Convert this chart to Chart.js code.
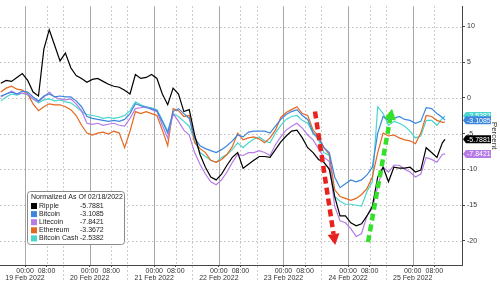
<!DOCTYPE html>
<html lang="en">
<head>
  <meta charset="utf-8" />
  <title>Crypto normalized</title>
  <script src="https://cdn.jsdelivr.net/npm/chart.js"></script>
  <style>
    html, body { margin: 0; padding: 0; background: #fff; }
    canvas { display: block; }
  </style>
</head>
<body>
  <canvas id="cryptoChart" width="500" height="282"></canvas>

  <script>
    // hours since 19 Feb 2022 00:00
    const hours = [
      -9, -7, -5, -3, -1, 1, 3, 5, 7, 9,
      11, 13, 15, 17, 19, 21, 23, 25, 27, 29,
      31, 33, 35, 37, 39, 41, 43, 45, 47, 49,
      51, 53, 55, 57, 59, 61, 63, 65, 67, 69,
      71, 73, 75, 77, 79, 81, 83, 85, 87, 89,
      91, 93, 95, 97, 99, 101, 103, 105, 107, 109,
      111, 113, 115, 117, 119, 121, 123, 125, 127, 129,
      131, 133, 135, 137, 139, 141, 143, 145, 147, 149,
      151, 153, 155, 156
    ];

    const ripple = [
      2.05, 2.46, 2.32, 2.87, 3.42, 2.46, 0.82, 0.27, 6.83, 9.56,
      7.38, 5.19, 6.28, 4.23, 3.14, 2.73, 2.19, 2.60, 2.73, 2.32,
      1.91, 1.64, 1.50, 1.09, 0.55, 3.28, 2.73, 2.87, 3.28, 2.73,
      0.55, -0.96, 1.37, 0.55, -1.91, -1.64, -5.19, -7.92, -9.70, -11.07,
      -11.48, -10.66, -9.43, -8.33, -7.65, -9.84, -9.29, -8.74, -8.20, -8.20,
      -8.33, -7.24, -6.15, -5.33, -4.64, -4.51, -5.60, -6.97, -7.65, -8.61,
      -9.02, -9.97, -13.80, -16.53, -16.53, -17.49, -17.90, -17.62, -16.53, -15.16,
      -11.07, -9.70, -11.75, -9.70, -9.84, -9.84, -9.70, -10.38, -10.11, -6.97,
      -7.65, -8.33, -6.28, -5.7881
    ];
    const bitcoin = [
      0.27, 0.55, 0.82, 0.55, 0.96, 0.82, 0.14, -0.41, 0.27, 0.55,
      0.14, 0.27, 0.14, 0.14, -0.41, -1.23, -2.60, -2.87, -3.01, -3.14,
      -3.28, -3.14, -3.28, -3.01, -2.19, -0.82, -1.09, -1.37, -1.50, -1.78,
      -3.28, -4.92, -1.91, -1.50, -2.19, -2.87, -5.60, -6.69, -7.10, -7.38,
      -7.65, -7.24, -6.69, -6.01, -5.19, -5.46, -4.78, -4.64, -4.64, -4.64,
      -4.92, -3.96, -3.01, -2.32, -1.91, -1.64, -2.46, -3.01, -4.92, -5.60,
      -6.97, -7.65, -11.07, -12.57, -12.02, -11.48, -11.75, -11.48, -10.79, -9.70,
      -4.92, -2.60, -3.14, -2.87, -2.60, -3.01, -3.14, -3.55, -3.28, -1.37,
      -1.50, -2.19, -2.73, -3.1085
    ];
    const litecoin = [
      0.14, 0.55, 0.96, 0.55, 0.68, 0.55, -0.14, -0.55, 0.14, 0.82,
      0.14, -0.14, -0.27, -0.14, -0.82, -1.78, -3.55, -3.69, -3.55, -3.83,
      -3.69, -3.55, -3.83, -3.96, -2.87, -1.50, -1.37, -1.23, -1.64, -1.91,
      -3.83, -5.60, -2.19, -3.28, -4.51, -5.19, -7.65, -9.29, -10.66, -11.75,
      -12.16, -11.48, -10.38, -9.02, -7.92, -8.06, -7.65, -7.65, -7.38, -7.65,
      -8.06, -6.56, -5.46, -4.51, -3.96, -3.55, -4.23, -5.19, -5.87, -7.10,
      -8.33, -8.88, -15.16, -17.21, -17.49, -18.31, -19.40, -18.99, -16.53, -15.44,
      -12.43, -9.70, -10.38, -9.43, -9.43, -9.97, -10.38, -11.07, -10.66, -8.33,
      -8.61, -9.02, -7.92, -7.8421
    ];
    const ethereum = [
      0.82, 1.37, 1.64, 1.23, 1.09, 0.55, -0.82, -1.78, -1.23, -0.82,
      -0.96, -0.96, -1.23, -1.64, -2.46, -3.83, -4.92, -5.19, -4.92, -4.78,
      -5.05, -4.64, -4.92, -6.97, -4.64, -1.91, -2.19, -1.91, -2.19, -2.46,
      -4.51, -6.69, -1.50, -1.78, -2.60, -2.46, -6.28, -7.10, -7.65, -8.74,
      -9.02, -8.61, -7.92, -6.83, -4.92, -5.87, -5.60, -5.46, -5.74, -6.28,
      -5.60, -4.51, -2.73, -2.05, -1.64, -1.23, -2.19, -2.46, -4.51, -5.33,
      -6.97, -7.92, -12.84, -13.80, -14.07, -14.34, -14.07, -13.52, -12.70, -11.07,
      -7.65, -4.92, -5.33, -5.19, -5.60, -5.87, -6.01, -6.42, -4.92, -2.46,
      -2.60, -3.14, -3.42, -3.3672
    ];
    const bitcoinCash = [
      -0.41, 0.14, 0.55, 0.41, 0.68, 0.41, -0.14, -0.68, -0.27, -0.14,
      -0.41, -0.27, -0.55, -0.68, -1.23, -1.91, -2.32, -2.46, -2.60, -2.87,
      -2.73, -2.87, -2.73, -2.46, -1.78, -0.55, -0.96, -1.23, -1.37, -1.64,
      -3.14, -4.64, -2.19, -2.60, -3.28, -3.96, -6.01, -7.65, -8.20, -8.74,
      -9.02, -8.33, -7.92, -7.24, -6.28, -6.97, -6.28, -5.74, -5.46, -6.01,
      -6.28, -4.92, -3.83, -3.01, -2.60, -2.46, -3.14, -3.55, -4.92, -5.87,
      -7.65, -8.06, -13.80, -14.48, -14.89, -14.89, -15.03, -15.16, -13.11, -11.75,
      -1.23, -2.19, -3.83, -3.28, -3.55, -3.96, -4.64, -5.60, -5.33, -3.14,
      -3.14, -3.83, -2.87, -2.5382
    ];

    const seriesNames = ['Ripple', 'Bitcoin', 'Litecoin', 'Ethereum', 'Bitcoin Cash'];
    const seriesColors = ['#000000', '#3d86e0', '#b57be6', '#e5661f', '#48d6cc'];
    const lastValues = ['-5.7881', '-3.1085', '-7.8421', '-3.3672', '-2.5382'];

    const dayLabels = ['19 Feb 2022', '20 Feb 2022', '21 Feb 2022', '22 Feb 2022',
                       '23 Feb 2022', '24 Feb 2022', '25 Feb 2022'];
    const yTicks = [-20, -15, -10, -5, 0, 5, 10];
    const legendTitle = 'Normalized As Of 02/18/2022';

    // arrows drawn on the chart, [hour, percent] start -> tip
    const redArrow = [[107.7, -1.9], [115.2, -20.6]];
    const greenArrow = [[127.4, -20.2], [136.3, -1.5]];

    const FONT = "'Liberation Sans', Arial, sans-serif";

    const xTickValues = [];
    dayLabels.forEach((d, i) => { xTickValues.push(i * 24, i * 24 + 8); });

    function toPoints(values) {
      return values.map((v, i) => ({ x: hours[i], y: v }));
    }

    function line(ctx, x1, y1, x2, y2) {
      ctx.beginPath();
      ctx.moveTo(x1, y1);
      ctx.lineTo(x2, y2);
      ctx.stroke();
    }

    // background grid (dotted / solid)
    const gridPlugin = {
      id: 'bbgGrid',
      beforeDatasetsDraw(chart) {
        const { ctx, chartArea: a, scales: { x, y } } = chart;
        ctx.save();
        ctx.lineWidth = 1;
        ctx.strokeStyle = '#bdbdbd';
        ctx.setLineDash([1.5, 2.5]);
        yTicks.forEach(v => {
          const py = Math.round(y.getPixelForValue(v)) + 0.5;
          line(ctx, a.left, py, a.right, py);
        });
        dayLabels.forEach((d, i) => {
          const p8 = Math.round(x.getPixelForValue(i * 24 + 8)) + 0.5;
          line(ctx, p8, a.top, p8, a.bottom);
          if (i < 6) {
            const ps = Math.round(x.getPixelForValue(i * 24 + 14)) + 0.5;
            line(ctx, ps, a.top, ps, chart.height);
          }
        });
        ctx.setLineDash([]);
        ctx.strokeStyle = '#a8a8a8';
        dayLabels.forEach((d, i) => {
          const p0 = Math.round(x.getPixelForValue(i * 24)) + 0.5;
          line(ctx, p0, a.top, p0, a.bottom);
        });
        ctx.restore();
      }
    };

    function drawArrow(ctx, x, y, pts, color) {
      const x1 = x.getPixelForValue(pts[0][0]), y1 = y.getPixelForValue(pts[0][1]);
      const x2 = x.getPixelForValue(pts[1][0]), y2 = y.getPixelForValue(pts[1][1]);
      const len = Math.hypot(x2 - x1, y2 - y1);
      const ux = (x2 - x1) / len, uy = (y2 - y1) / len;
      const bx = x2 - ux * 11, by = y2 - uy * 11;
      ctx.save();
      ctx.strokeStyle = color;
      ctx.fillStyle = color;
      ctx.lineWidth = 4.5;
      ctx.setLineDash([7, 4]);
      line(ctx, x1, y1, bx, by);
      ctx.setLineDash([]);
      ctx.beginPath();
      ctx.moveTo(x2, y2);
      ctx.lineTo(bx - uy * 6, by + ux * 6);
      ctx.lineTo(bx + uy * 6, by - ux * 6);
      ctx.closePath();
      ctx.fill();
      ctx.restore();
    }

    // arrows, legend box and last value tags
    const overlayPlugin = {
      id: 'overlay',
      afterDatasetsDraw(chart) {
        const { ctx, scales: { x, y } } = chart;
        drawArrow(ctx, x, y, redArrow, '#e8231f');
        drawArrow(ctx, x, y, greenArrow, '#35e02c');

        // legend
        ctx.save();
        ctx.fillStyle = '#fff';
        ctx.strokeStyle = '#8a8a8a';
        ctx.lineWidth = 1;
        ctx.beginPath();
        ctx.roundRect(27.5, 191.5, 97, 53, 3);
        ctx.fill();
        ctx.stroke();
        ctx.font = '7px ' + FONT;
        ctx.textBaseline = 'middle';
        ctx.fillStyle = '#222';
        ctx.fillText(legendTitle, 31, 197.5);
        seriesNames.forEach((n, i) => {
          const ry = 206 + i * 8.1;
          ctx.fillStyle = seriesColors[i];
          ctx.fillRect(31, ry - 3, 6, 6);
          ctx.fillStyle = '#222';
          ctx.fillText(n, 39, ry);
          ctx.fillText(lastValues[i], 80, ry);
        });
        ctx.restore();

        // value tags on the right axis
        ctx.save();
        ctx.font = '7px ' + FONT;
        ctx.textBaseline = 'middle';
        [4, 1, 0, 2].forEach(i => {
          const data = chart.data.datasets[i].data;
          const py = y.getPixelForValue(data[data.length - 1].y);
          ctx.fillStyle = seriesColors[i];
          ctx.beginPath();
          ctx.moveTo(463, py);
          ctx.lineTo(466, py - 4);
          ctx.lineTo(491, py - 4);
          ctx.lineTo(491, py + 4);
          ctx.lineTo(466, py + 4);
          ctx.closePath();
          ctx.fill();
          ctx.fillStyle = '#fff';
          ctx.fillText(lastValues[i], 467, py + 0.5);
        });
        ctx.restore();
      }
    };

    const ctx = document.getElementById('cryptoChart').getContext('2d');
    const chart = new Chart(ctx, {
      type: 'line',
      data: {
        datasets: [ripple, bitcoin, litecoin, ethereum, bitcoinCash].map((vals, i) => ({
          label: seriesNames[i],
          data: toPoints(vals),
          borderColor: seriesColors[i],
          borderWidth: 1.2,
          pointRadius: 0,
          tension: 0,
          fill: false
        }))
      },
      options: {
        responsive: false,
        animation: false,
        layout: { padding: 0 },
        plugins: {
          legend: { display: false },
          tooltip: { enabled: false }
        },
        scales: {
          x: {
            type: 'linear',
            min: -9.29,
            max: 162.3,
            afterBuildTicks: s => { s.ticks = xTickValues.map(v => ({ value: v })); },
            afterFit: s => { s.height = 17; },
            grid: { drawOnChartArea: false, drawTicks: true, tickLength: 2, color: '#444' },
            border: { color: '#444' },
            ticks: {
              autoSkip: false,
              maxRotation: 0,
              padding: 0,
              color: '#333',
              font: { size: 7, family: FONT, lineHeight: 1.05 },
              callback: v => (v % 24 === 0 ? ['00:00', dayLabels[v / 24]] : ['08:00', ''])
            }
          },
          y: {
            position: 'right',
            min: -23.4,
            max: 12.85,
            afterBuildTicks: s => { s.ticks = yTicks.map(v => ({ value: v })); },
            afterFit: s => { s.width = 38; },
            grid: { drawOnChartArea: false, drawTicks: true, tickLength: 3, color: '#444' },
            border: { color: '#444' },
            ticks: {
              padding: 2,
              color: '#333',
              font: { size: 7, family: FONT },
              callback: v => String(v)
            },
            title: {
              display: true,
              text: 'Percent',
              color: '#333',
              padding: 1,
              font: { size: 8, family: FONT }
            }
          }
        }
      },
      plugins: [gridPlugin, overlayPlugin]
    });
  </script>
</body>
</html>
